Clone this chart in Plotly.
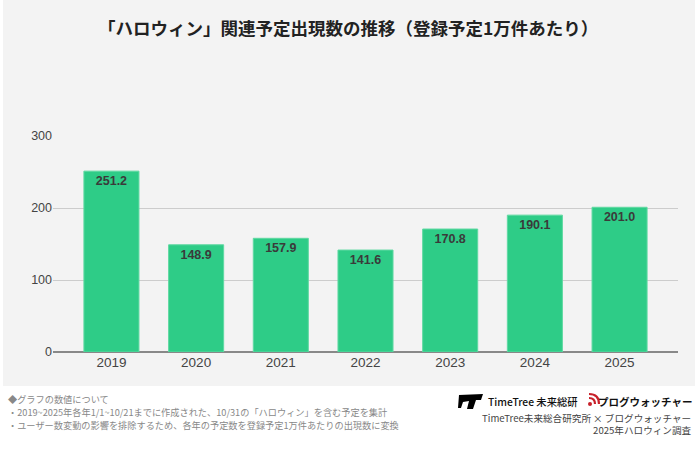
import plotly.graph_objects as go

years = ["2019", "2020", "2021", "2022", "2023", "2024", "2025"]
values = [251.2, 148.9, 157.9, 141.6, 170.8, 190.1, 201.0]
y_ticks = [0, 100, 200, 300]

title_text = "「ハロウィン」関連予定出現数の推移（登録予定1万件あたり）"
notes = [
    "◆グラフの数値について",
    "・2019~2025年各年1/1~10/21までに作成された、10/31の「ハロウィン」を含む予定を集計",
    "・ユーザー数変動の影響を排除するため、各年の予定数を登録予定1万件あたりの出現数に変換",
]
source_lines = ["TimeTree未来総合研究所 × ブログウォッチャー", "2025年ハロウィン調査"]

W, H = 700, 456


def px(x):
    return x / W


def py(y):
    return 1 - y / H


fig = go.Figure()
fig.add_trace(go.Bar(
    x=years, y=values,
    marker=dict(color="#2ecc87", line=dict(color="#5fd9a2", width=1)),
    width=0.65,
    text=[f"{v:.1f}" for v in values],
    textposition="inside",
    insidetextanchor="end",
    textangle=0,
    textfont=dict(family="Liberation Sans", size=12.5, color="#3a3a3a", weight="bold"),
    hoverinfo="skip",
))

fig.update_layout(
    width=W, height=H,
    margin=dict(l=0, r=0, t=0, b=0),
    paper_bgcolor="white",
    plot_bgcolor="rgba(0,0,0,0)",
    showlegend=False,
    bargap=0.35,
    xaxis=dict(
        domain=[px(53), px(678)],
        range=[-0.69, 6.69],
        showgrid=False,
        showline=False,
        ticks="",
        tickfont=dict(family="Liberation Sans", size=13.5, color="#444"),
        automargin=False,
    ),
    yaxis=dict(
        domain=[py(352), py(136)],
        range=[0, 300],
        tickvals=y_ticks,
        showgrid=True,
        gridcolor="#cccccc",
        gridwidth=1,
        zeroline=True,
        zerolinecolor="#888888",
        zerolinewidth=2,
        showline=False,
        ticks="",
        tickfont=dict(family="Liberation Sans", size=12.5, color="#444"),
        automargin=False,
    ),
)

shapes = [
    dict(type="rect", xref="paper", yref="paper", x0=px(3), x1=px(695), y0=py(386), y1=py(0),
         fillcolor="#f3f3f3", line=dict(width=0), layer="below"),
]


def path_from(points):
    s = "M " + " L ".join(f"{px(x):.5f},{py(y):.5f}" for x, y in points) + " Z"
    return s

# TimeTree logo (approximation)
shapes.append(dict(type="path", xref="paper", yref="paper",
                   path=path_from([(459, 395), (483, 394), (481, 400), (476, 400), (473, 409),
                                   (467, 409), (469, 401), (463, 402), (461, 408), (458, 408)]),
                   fillcolor="black", line=dict(width=0)))
# Blog watcher icon (approximation)
shapes.append(dict(type="circle", xref="paper", yref="paper",
                   x0=px(588), x1=px(592), y0=py(406), y1=py(402),
                   fillcolor="#c8202a", line=dict(width=0)))
for r in (6, 10):
    x0, y0 = 589, 404
    shapes.append(dict(type="path", xref="paper", yref="paper",
                       path=f"M {px(x0):.5f},{py(y0 - r):.5f} Q {px(x0 + r):.5f},{py(y0 - r):.5f} {px(x0 + r):.5f},{py(y0):.5f}",
                       line=dict(color="#c8202a", width=2.2)))
fig.update_layout(shapes=shapes)

ann = []
ann.append(dict(text=title_text, x=px(348), y=py(28), xref="paper", yref="paper",
                showarrow=False, xanchor="center", yanchor="middle",
                font=dict(family="Noto Sans CJK JP", size=17.5, color="#222", weight="bold")))
for i, line in enumerate(notes):
    ann.append(dict(text=line, x=px(7), y=py(398.5 + i * 13), xref="paper", yref="paper",
                    showarrow=False, xanchor="left", yanchor="middle", borderpad=0,
                    font=dict(family="Noto Sans CJK JP", size=9.2, color="#888")))
ann.append(dict(text="TimeTree 未来総研", x=px(486), y=py(401), xref="paper", yref="paper",
                showarrow=False, xanchor="left", yanchor="middle",
                font=dict(family="Noto Sans CJK JP", size=10.3, color="#111", weight=500)))
ann.append(dict(text="プログウォッチャー", x=px(694), y=py(401), xref="paper", yref="paper",
                showarrow=False, xanchor="right", yanchor="middle",
                font=dict(family="Noto Sans CJK JP", size=10.5, color="#111", weight="bold")))
ann.append(dict(text="<br>".join(source_lines), x=px(694), y=py(423.5), xref="paper", yref="paper",
                showarrow=False, xanchor="right", yanchor="middle", align="right",
                font=dict(family="Noto Sans CJK JP", size=9.6, color="#444")))
fig.update_layout(annotations=ann)

fig.write_html("out.html", config={"displayModeBar": False},
               post_script="document.body.style.margin='0';")
